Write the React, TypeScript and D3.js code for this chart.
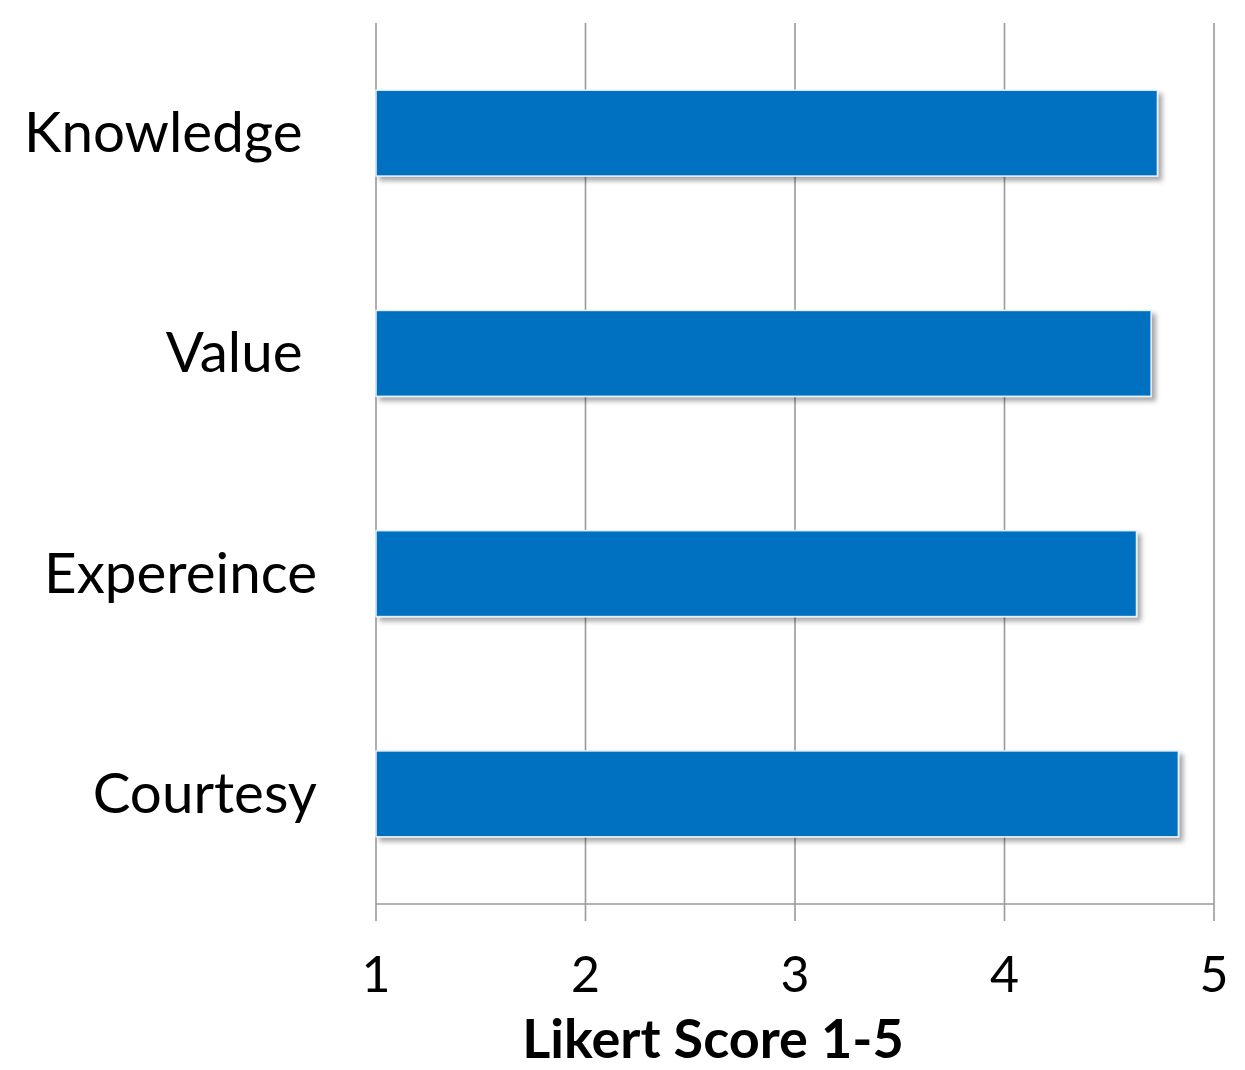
import React from "react";
import * as d3 from "d3";

const categories = ["Knowledge ", "Value ", "Expereince", "Courtesy"];
const scores = [4.73, 4.70, 4.63, 4.83];
const tickValues = [1, 2, 3, 4, 5];
const axisTitle = "Likert Score 1-5";

const W = 1245;
const H = 1070;
const left = 376;
const right = 1214;
const top = 23;
const bottom = 904;
const FONT = "Lato, 'Open Sans', sans-serif";

export default function App() {
  const x = d3.scaleLinear().domain([1, 5]).range([left, right]);
  const y = d3
    .scaleBand<string>()
    .domain(categories)
    .range([top, bottom])
    .paddingInner(0.61)
    .paddingOuter(0.305);

  return (
    <svg
      width={W}
      height={H}
      style={{ position: "absolute", left: 0, top: 0, background: "#fff" }}
    >
      <defs>
        <filter id="shadow" x="-5%" y="-20%" width="115%" height="150%">
          <feDropShadow dx="4" dy="4" stdDeviation="2.5" floodColor="#000" floodOpacity="0.35" />
        </filter>
      </defs>
      {/* gridlines */}
      {tickValues.map((t) => (
        <line
          key={"g" + t}
          x1={x(t)}
          x2={x(t)}
          y1={top}
          y2={bottom + 17}
          stroke="#9a9a9a"
          strokeWidth={1.6}
        />
      ))}
      {/* x axis line */}
      <line x1={left} x2={right} y1={bottom} y2={bottom} stroke="#9a9a9a" strokeWidth={1.6} />
      {/* bars */}
      {categories.map((c, i) => (
        <rect
          key={c}
          x={x(1)}
          y={y(c)!}
          width={x(scores[i]) - x(1)}
          height={y.bandwidth()}
          fill="#0070C0"
          stroke="#e6f0fa"
          strokeWidth={1.5}
          filter="url(#shadow)"
        />
      ))}
      {/* category labels */}
      {categories.map((c) => (
        <text
          key={"l" + c}
          x={317}
          y={y(c)! + y.bandwidth() / 2 + 19}
          textAnchor="end"
          fontFamily={FONT}
          fontSize={56.5}
          fill="#000"
          style={{ whiteSpace: "pre" }}
        >
          {c}
        </text>
      ))}
      {/* tick labels */}
      {tickValues.map((t) => (
        <text
          key={"t" + t}
          x={x(t)}
          y={992}
          textAnchor="middle"
          fontFamily={FONT}
          fontSize={50}
          fill="#000"
        >
          {t}
        </text>
      ))}
      {/* axis title */}
      <text
        x={713}
        y={1058}
        textAnchor="middle"
        fontFamily={FONT}
        fontWeight="bold"
        fontSize={54}
        fill="#000"
      >
        {axisTitle}
      </text>
    </svg>
  );
}
